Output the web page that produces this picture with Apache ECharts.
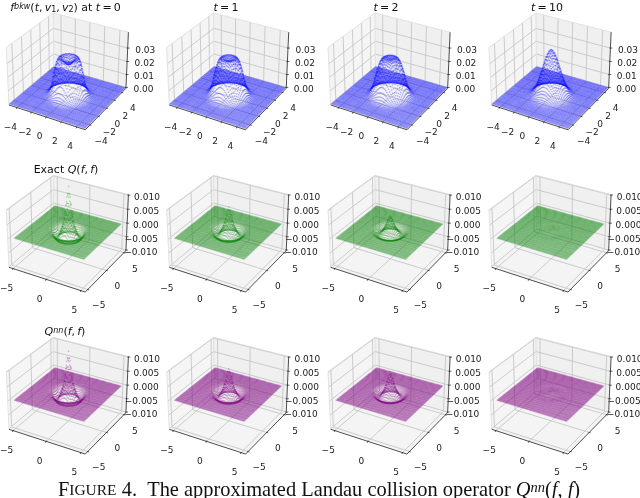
<!DOCTYPE html>
<html><head><meta charset="utf-8">
<style>html,body{margin:0;padding:0;background:#fff}#c{width:640px;height:498px}</style>
<script src="https://cdn.jsdelivr.net/npm/echarts@6/dist/echarts.min.js"></script>
</head><body><div id="c"></div>
<script>
const radii = [0,0.25,0.5,0.75,1,1.25,1.5,1.75,2,2.25,2.5,2.75,3,3.5,4];
// f^bkw(t,v1,v2), panels t = 0, 1, 2, 10
const fT0  = [0.0235,0.024,0.0255,0.0275,0.0285,0.0275,0.0235,0.0165,0.0078,0.0036,0.0015,0.0005,0.0001,0,0];
const fT1  = [0.0265,0.0268,0.0275,0.0282,0.0278,0.0255,0.021,0.015,0.0082,0.004,0.0017,0.0006,0.0001,0,0];
const fT2  = [0.0275,0.0278,0.0282,0.0282,0.0272,0.0245,0.02,0.0148,0.0085,0.0042,0.0018,0.0006,0.0002,0,0];
const fT10 = [0.0345,0.0335,0.0305,0.0265,0.0215,0.0165,0.0118,0.0078,0.0046,0.0025,0.0012,0.0005,0.0002,0,0];
// Exact Q(f,f), panels t = 0, 1, 2, 10
const qT0  = [0.0155,0.0115,0.0058,0.0022,0.0002,-0.0018,-0.0027,-0.0022,-0.001,-0.0003,-0.0001,0,0,0,0];
const qT1  = [0.0085,0.0068,0.0038,0.0015,0.0001,-0.0012,-0.0019,-0.0016,-0.0008,-0.0002,-0.0001,0,0,0,0];
const qT2  = [0.0055,0.0046,0.0027,0.0011,0.0001,-0.0009,-0.0014,-0.0012,-0.0006,-0.0002,0,0,0,0,0];
const qT10 = [0.00012,0.0001,0.00005,0,-0.00003,-0.00006,-0.00008,-0.00006,-0.00003,0,0,0,0,0,0];
// Q^nn(f,f), panels t = 0, 1, 2, 10
const nT0  = [0.0145,0.0108,0.0055,0.002,0.0002,-0.0018,-0.0027,-0.0022,-0.001,-0.0003,-0.0001,0,0,0,0];
const nT1  = [0.0085,0.0069,0.004,0.0015,0.0001,-0.0012,-0.0019,-0.0015,-0.0007,-0.0002,-0.0001,0,0,0,0];
const nT2  = [0.0075,0.0061,0.0035,0.0014,0.0001,-0.0011,-0.0017,-0.0014,-0.0007,-0.0002,0,0,0,0,0];
const nT10 = [0.00015,0.00012,0.00006,0,-0.00004,-0.00008,-0.0001,-0.00008,-0.00004,0,0,0,0,0,0];
// Tick labels
const ticksTopXY = [-4,-2,0,2,4];
const ticksTopZ  = [0,0.01,0.02,0.03];
const labelsTopZ = ['0.00','0.01','0.02','0.03'];
const ticksQXY   = [-5,0,5];
const ticksQZ    = [-0.01,-0.005,0,0.005,0.01];
const labelsQZ   = ['\u22120.010','\u22120.005','0.000','0.005','0.010'];

const profiles = [[fT0,fT1,fT2,fT10],[qT0,qT1,qT2,qT10],[nT0,nT1,nT2,nT10]];
const rowStyle = [
  {color:'#0000ff', alpha:0.30, size:1.6, lim:5.1,  zlim:[-0.0007,0.0416], xy:ticksTopXY, z:ticksTopZ, zl:labelsTopZ, zr:27.5},
  {color:'#008000', alpha:0.28, size:1.6, lim:5.63, zlim:[-0.0102,0.0102], xy:ticksQXY,   z:ticksQZ,   zl:labelsQZ,   zr:31.5},
  {color:'#800080', alpha:0.30, size:1.6, lim:5.63, zlim:[-0.0102,0.0102], xy:ticksQXY,   z:ticksQZ,   zl:labelsQZ,   zr:31.5}
];
const colX = [68.5,228.8,390.2,551.2];
const rowY = [68.7,231,393];
const half = 65, pxPerUnit = 765, viewHalf = half/pxPerUnit;
const MESH = 64, DATA_LIM = 5;

// matplotlib's mplot3d view (elev 30, azim -60, dist 10, box aspect 4:4:3)
const box = [1.1429,1.1429,0.8571];
function project(st,x,y,z){
  const qx=(x/st.lim)*box[0]/2, qy=(y/st.lim)*box[1]/2,
        qz=((z-st.zlim[0])/(st.zlim[1]-st.zlim[0])-0.5)*box[2];
  const d=10-(0.4330*qx-0.75*qy+0.5*qz);
  return [(0.866*qx+0.5*qy)/d,(-0.25*qx+0.433*qy+0.866*qz)/d];
}
function lookup(p,r){
  if(r>=radii[radii.length-1]) return 0;
  let i=0; while(radii[i+1]<r) i++;
  const t=(r-radii[i])/(radii[i+1]-radii[i]);
  return p[i]+(p[i+1]-p[i])*t;
}
const FONT='"DejaVu Sans"';
function frameItem(st){
  return function(params,api){
    const P=(x,y,z)=>api.coord(project(st,x,y,z));
    const L=st.lim,[z0,z1]=st.zlim,ch=[];
    const poly=(pts,fill)=>ch.push({type:'polygon',shape:{points:pts},style:{fill:fill,stroke:null},silent:true});
    const line=(pts,c,w)=>ch.push({type:'polyline',shape:{points:pts},style:{fill:null,stroke:c,lineWidth:w},silent:true});
    poly([P(-L,-L,z0),P(-L,L,z0),P(-L,L,z1),P(-L,-L,z1)],'#f5f5f5');
    poly([P(-L,L,z0),P(L,L,z0),P(L,L,z1),P(-L,L,z1)],'#f0f0f0');
    poly([P(-L,-L,z0),P(L,-L,z0),P(L,L,z0),P(-L,L,z0)],'#f4f4f4');
    const g='#c6c6c6',gw=0.9;
    st.xy.forEach(t=>{
      line([P(t,-L,z0),P(t,L,z0),P(t,L,z1)],g,gw);
      line([P(L,t,z0),P(-L,t,z0),P(-L,t,z1)],g,gw);
    });
    st.z.forEach(t=>line([P(-L,-L,t),P(-L,L,t),P(L,L,t)],g,gw));
    const e='#dcdcdc';
    line([P(-L,-L,z0),P(-L,-L,z1),P(-L,L,z1),P(L,L,z1)],e,0.8);
    line([P(-L,L,z0),P(-L,L,z1)],e,0.8);
    const k='#222';
    line([P(-L,-L,z0),P(L,-L,z0),P(L,L,z0),P(L,L,z1)],k,0.8);
    const txt=(s,x,y,al)=>ch.push({type:'text',silent:true,style:{text:s,x:x,y:y,align:al,verticalAlign:'middle',fontFamily:FONT,fontSize:9,fill:'#222'}});
    st.xy.forEach(t=>{
      let a=P(t,-L,z0);
      line([[a[0]-0.6,a[1]+1.4],[a[0]+0.2,a[1]-0.6]],k,0.7);
      txt(t<0?'\u2212'+(-t):''+t,a[0]-6.5,a[1]+20,'center');
      a=P(L,t,z0);
      line([[a[0]+1.4,a[1]+0.4],[a[0]-0.6,a[1]-0.2]],k,0.7);
      txt(t<0?'\u2212'+(-t):''+t,a[0]+11,a[1]+16.5,'center');
    });
    st.z.forEach((t,i)=>{
      const a=P(L,L,t);
      line([[a[0]-1,a[1]],[a[0]+2,a[1]]],k,0.7);
      txt(st.zl[i],a[0]+st.zr,a[1]+2.5,'right');
    });
    return {type:'group',children:ch};
  };
}
function surfacePoints(st,prof){
  const out=[];
  for(let i=0;i<=MESH;i++)for(let j=0;j<=MESH;j++){
    const x=-DATA_LIM+2*DATA_LIM*i/MESH,y=-DATA_LIM+2*DATA_LIM*j/MESH;
    out.push(project(st,x,y,lookup(prof,Math.hypot(x,y))));
  }
  return out;
}
const grids=[],xAxes=[],yAxes=[],series=[];
profiles.forEach((row,r)=>row.forEach((prof,c)=>{
  const n=grids.length,st=rowStyle[r];
  grids.push({left:colX[c]-half,top:rowY[r]-half,width:2*half,height:2*half,containLabel:false});
  xAxes.push({type:'value',gridIndex:n,min:-viewHalf,max:viewHalf,show:false});
  yAxes.push({type:'value',gridIndex:n,min:-viewHalf,max:viewHalf,show:false});
  series.push({type:'custom',xAxisIndex:n,yAxisIndex:n,clip:false,silent:true,data:[[0,0]],renderItem:frameItem(st),z:2,animation:false,encode:{x:[],y:[]}});
  series.push({type:'scatter',xAxisIndex:n,yAxisIndex:n,clip:false,silent:true,data:surfacePoints(st,prof),symbol:'circle',symbolSize:st.size,
    itemStyle:{color:st.color,opacity:st.alpha,borderWidth:0},z:3,animation:false,progressive:0,large:false,emphasis:{disabled:true}});
}));
const W={fontWeight:'normal'};
const mathRich={
  n:{...W,fontFamily:FONT,fontSize:11,color:'#111'},
  i:{...W,fontFamily:FONT,fontStyle:'italic',fontSize:11,color:'#111'},
  s:{...W,fontFamily:FONT,fontStyle:'italic',fontSize:8,color:'#111',verticalAlign:'top',lineHeight:10},
  u:{...W,fontFamily:FONT,fontSize:8,color:'#111',verticalAlign:'bottom',lineHeight:8}
};
const SERIF='"Liberation Serif"';
const capRich={
  b:{...W,fontFamily:SERIF,fontSize:20.4,color:'#111'},
  c:{...W,fontFamily:SERIF,fontSize:15.5,color:'#111'},
  i:{...W,fontFamily:SERIF,fontStyle:'italic',fontSize:20.4,color:'#111'},
  s:{...W,fontFamily:SERIF,fontStyle:'italic',fontSize:14.5,color:'#111',verticalAlign:'top',lineHeight:12}
};
const T=(text,x,y,rich)=>({text:text,left:x,top:y,textAlign:'center',padding:0,itemGap:0,textStyle:{rich:rich,fontWeight:'normal',fontFamily:FONT,fontSize:11,color:'#111'}});
const EQ='\u2009=\u2009';
const titles=[
  T('{i|f}{s|bkw}{n|(}{i|t}{n|,\u2009}{i|v}{u|1}{n|,\u2009}{i|v}{u|2}{n|) at }{i|t}{n|'+EQ+'0}',65.5,3,mathRich),
  T('{i|t}{n|'+EQ+'1}',226,3,mathRich),
  T('{i|t}{n|'+EQ+'2}',386,3,mathRich),
  T('{i|t}{n|'+EQ+'10}',547,3,mathRich),
  T('{n|Exact }{i|Q}{n|(}{i|f}{n|,\u2009}{i|f}{n|)}',66,165,mathRich),
  T('{i|Q}{s|nn}{n|(}{i|f}{n|,\u2009}{i|f}{n|)}',65,327,mathRich),
  T('{b|F}{c|IGURE}{b| 4.  The approximated Landau collision operator }{i|Q}{s|nn}{b|(}{i|f}{b|, }{i|f}{b|)}',319,481,capRich)
];
const chart=echarts.init(document.getElementById('c'),null,{renderer:'canvas',width:640,height:498});
chart.setOption({animation:false,backgroundColor:'#fff',title:titles,grid:grids,xAxis:xAxes,yAxis:yAxes,tooltip:{show:false},series:series});
</script></body></html>
